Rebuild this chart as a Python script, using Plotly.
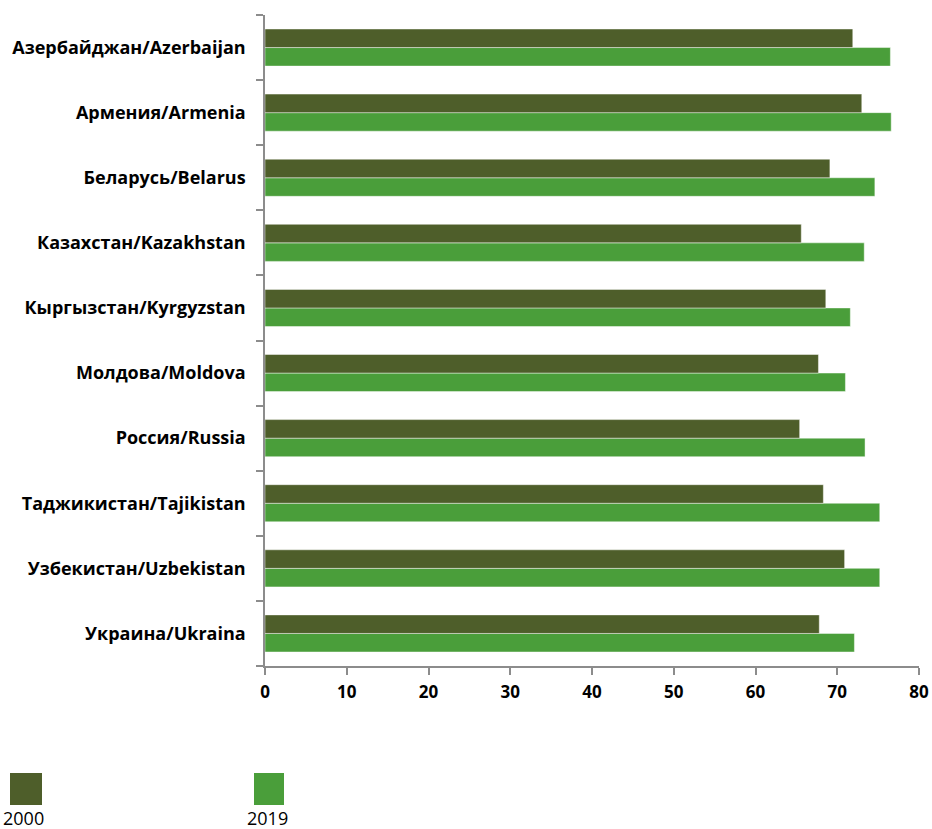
import plotly.graph_objects as go

countries = [
    "Азербайджан/Azerbaijan", "Армения/Armenia", "Беларусь/Belarus",
    "Казахстан/Kazakhstan", "Кыргызстан/Kyrgyzstan", "Молдова/Moldova",
    "Россия/Russia", "Таджикистан/Tajikistan", "Узбекистан/Uzbekistan",
    "Украина/Ukraina",
]
values_2000 = [71.9, 73.0, 69.1, 65.6, 68.6, 67.7, 65.4, 68.3, 70.9, 67.8]
values_2019 = [76.5, 76.6, 74.6, 73.3, 71.6, 71.0, 73.4, 75.2, 75.2, 72.1]
series_names = ["2000", "2019"]
x_ticks = [0, 10, 20, 30, 40, 50, 60, 70, 80]

W, H = 932, 829
ML, MR, MT, MB = 265, 13, 15, 163
PW, PH = W - ML - MR, H - MT - MB

c2000 = "#4E5E2A"
c2019 = "#4A9E3A"

def px_x(p):
    return (p - ML) / PW

def px_y(p):
    return (H - MB - p) / PH

fig = go.Figure()
fig.add_trace(go.Bar(
    y=countries, x=values_2019, name=series_names[1], orientation="h",
    marker=dict(color=c2019, line=dict(color="rgba(255,255,255,0.45)", width=1)),
))
fig.add_trace(go.Bar(
    y=countries, x=values_2000, name=series_names[0], orientation="h",
    marker=dict(color=c2000, line=dict(color="rgba(255,255,255,0.45)", width=1)),
))

font_family = "'Open Sans', sans-serif"

fig.update_layout(
    width=W, height=H,
    margin=dict(l=ML, r=MR, t=MT, b=MB),
    paper_bgcolor="white", plot_bgcolor="white",
    barmode="group", bargap=0.43, bargroupgap=0,
    showlegend=False,
    font=dict(family=font_family, color="#000000"),
    xaxis=dict(
        range=[0, 80], tickvals=x_ticks, showgrid=False, zeroline=False,
        showline=True, linecolor="#8C8C8C", linewidth=1.5,
        ticks="outside", ticklen=7, tickcolor="#8C8C8C", tickwidth=1.5,
        ticklabelstandoff=3, automargin=False,
        tickfont=dict(size=17, family=font_family, weight="bold", color="#000"),
    ),
    yaxis=dict(
        categoryorder="array", categoryarray=countries[::-1],
        showgrid=False, zeroline=False,
        showline=True, linecolor="#8C8C8C", linewidth=1.5,
        ticks="outside", ticklen=7, tickcolor="#8C8C8C", tickwidth=1.5,
        tickson="boundaries", ticklabelstandoff=14, automargin=False,
        tickfont=dict(size=18, family=font_family, weight="bold", color="#000"),
    ),
)

legend_items = [
    (series_names[0], c2000, 10, 42, 23),
    (series_names[1], c2019, 254, 284, 267),
]
for name, col, x0, x1, tx in legend_items:
    fig.add_shape(type="rect", xref="paper", yref="paper",
                  x0=px_x(x0), x1=px_x(x1), y0=px_y(805), y1=px_y(773),
                  fillcolor=col, line=dict(width=0))
    fig.add_annotation(xref="paper", yref="paper", x=px_x(tx), y=px_y(818),
                       text=name, showarrow=False, xanchor="center", yanchor="middle",
                       font=dict(size=18, family=font_family, color="#000"))

fig.write_html("out.html", config={"displayModeBar": False},
               post_script="document.body.style.margin='0';document.body.style.overflow='hidden';")
